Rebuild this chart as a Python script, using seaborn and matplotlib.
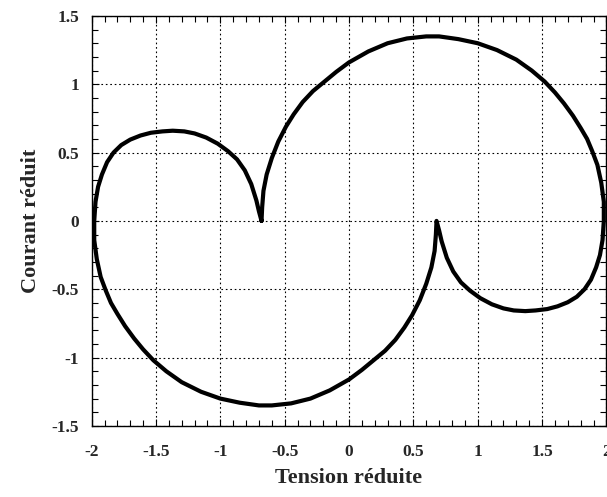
import pandas as pd
import matplotlib
matplotlib.use("Agg")
import matplotlib.pyplot as plt
from matplotlib.ticker import MultipleLocator
import seaborn as sns

# values, following the curve in order
upper_lobe_x = [-0.68, -0.675, -0.665, -0.64, -0.60, -0.55, -0.49, -0.43, -0.36, -0.28, -0.19, -0.10, 0.00,
                0.15, 0.30, 0.45, 0.60, 0.70, 0.85, 1.00, 1.15, 1.30, 1.42, 1.52, 1.60, 1.67, 1.74,
                1.80, 1.85, 1.89, 1.93, 1.96, 1.98, 1.98]
upper_lobe_y = [0.00, 0.10, 0.22, 0.34, 0.46, 0.58, 0.69, 0.78, 0.87, 0.95, 1.02, 1.09, 1.16,
                1.24, 1.30, 1.335, 1.35, 1.35, 1.33, 1.30, 1.25, 1.18, 1.10, 1.02, 0.94, 0.86, 0.77,
                0.68, 0.60, 0.51, 0.41, 0.28, 0.14, 0.00]

right_lobe_x = [1.97, 1.95, 1.92, 1.88, 1.83, 1.77, 1.70, 1.62, 1.54, 1.45, 1.37, 1.28, 1.20, 1.11,
                1.02, 0.94, 0.87, 0.81, 0.76, 0.72, 0.70, 0.68]
right_lobe_y = [-0.14, -0.25, -0.34, -0.43, -0.50, -0.555, -0.595, -0.625, -0.645, -0.655, -0.66, -0.655,
                -0.64, -0.61, -0.565, -0.51, -0.45, -0.37, -0.27, -0.15, -0.07, 0.00]

lower_lobe_x = [0.675, 0.665, 0.64, 0.60, 0.55, 0.49, 0.43, 0.36, 0.28, 0.19, 0.10, 0.00,
                -0.15, -0.30, -0.45, -0.60, -0.70, -0.85, -1.00, -1.15, -1.30, -1.42, -1.52, -1.60, -1.67, -1.74,
                -1.80, -1.85, -1.89, -1.93, -1.96, -1.98, -1.98]
lower_lobe_y = [-0.10, -0.22, -0.34, -0.46, -0.58, -0.69, -0.78, -0.87, -0.95, -1.02, -1.09, -1.16,
                -1.24, -1.30, -1.335, -1.35, -1.35, -1.33, -1.30, -1.25, -1.18, -1.10, -1.02, -0.94, -0.86, -0.77,
                -0.68, -0.60, -0.51, -0.41, -0.28, -0.14, 0.00]

left_lobe_x = [-1.97, -1.95, -1.92, -1.88, -1.83, -1.77, -1.70, -1.62, -1.54, -1.45, -1.37, -1.28, -1.20, -1.11,
               -1.02, -0.94, -0.87, -0.81, -0.76, -0.72, -0.70, -0.68]
left_lobe_y = [0.14, 0.25, 0.34, 0.43, 0.50, 0.555, 0.595, 0.625, 0.645, 0.655, 0.66, 0.655,
               0.64, 0.61, 0.565, 0.51, 0.45, 0.37, 0.27, 0.15, 0.07, 0.00]

x_ticks = [-2, -1.5, -1, -0.5, 0, 0.5, 1, 1.5, 2]
x_tick_labels = ["-2", "-1.5", "-1", "-0.5", "0", "0.5", "1", "1.5", "2"]
y_ticks = [-1.5, -1, -0.5, 0, 0.5, 1, 1.5]
y_tick_labels = ["-1.5", "-1", "-0.5", "0", "0.5", "1", "1.5"]

curve = pd.DataFrame({
    "tension": upper_lobe_x + right_lobe_x + lower_lobe_x + left_lobe_x,
    "courant": upper_lobe_y + right_lobe_y + lower_lobe_y + left_lobe_y,
})

sns.set_style("ticks")
plt.rcParams["font.family"] = ["Liberation Serif", "DejaVu Serif"]

fig = plt.figure(figsize=(6.07, 4.97), dpi=100)
ax = fig.add_axes([0.151, 0.143, 0.848, 0.825])

sns.lineplot(data=curve, x="tension", y="courant", sort=False, estimator=None,
             color="black", linewidth=3.0, ax=ax)

ax.set_xlim(-2, 2)
ax.set_ylim(-1.5, 1.5)
ax.set_xticks(x_ticks)
ax.set_xticklabels(x_tick_labels)
ax.set_yticks(y_ticks)
ax.set_yticklabels(y_tick_labels)
ax.xaxis.set_minor_locator(MultipleLocator(0.1))
ax.yaxis.set_minor_locator(MultipleLocator(0.1))
ax.tick_params(which="both", direction="in", top=True, right=True, color="black", width=0.8)
ax.tick_params(which="major", length=5)
ax.tick_params(which="minor", length=4)
ax.tick_params(axis="x", which="major", pad=13, labelsize=12.5)
ax.tick_params(axis="y", which="major", pad=9, labelsize=12.5)
for lab in ax.get_xticklabels() + ax.get_yticklabels():
    lab.set_fontweight("bold")

ax.grid(True, which="major", color="black", linestyle=(0, (1.5, 2.5)), linewidth=0.8)
for s in ax.spines.values():
    s.set_color("black")
    s.set_linewidth(1.0)

ax.set_xlabel("Tension réduite", fontsize=16, fontweight="bold", labelpad=6)
ax.set_ylabel("Courant réduit", fontsize=16, fontweight="bold", labelpad=8)

fig.savefig("out.png", dpi=100)
